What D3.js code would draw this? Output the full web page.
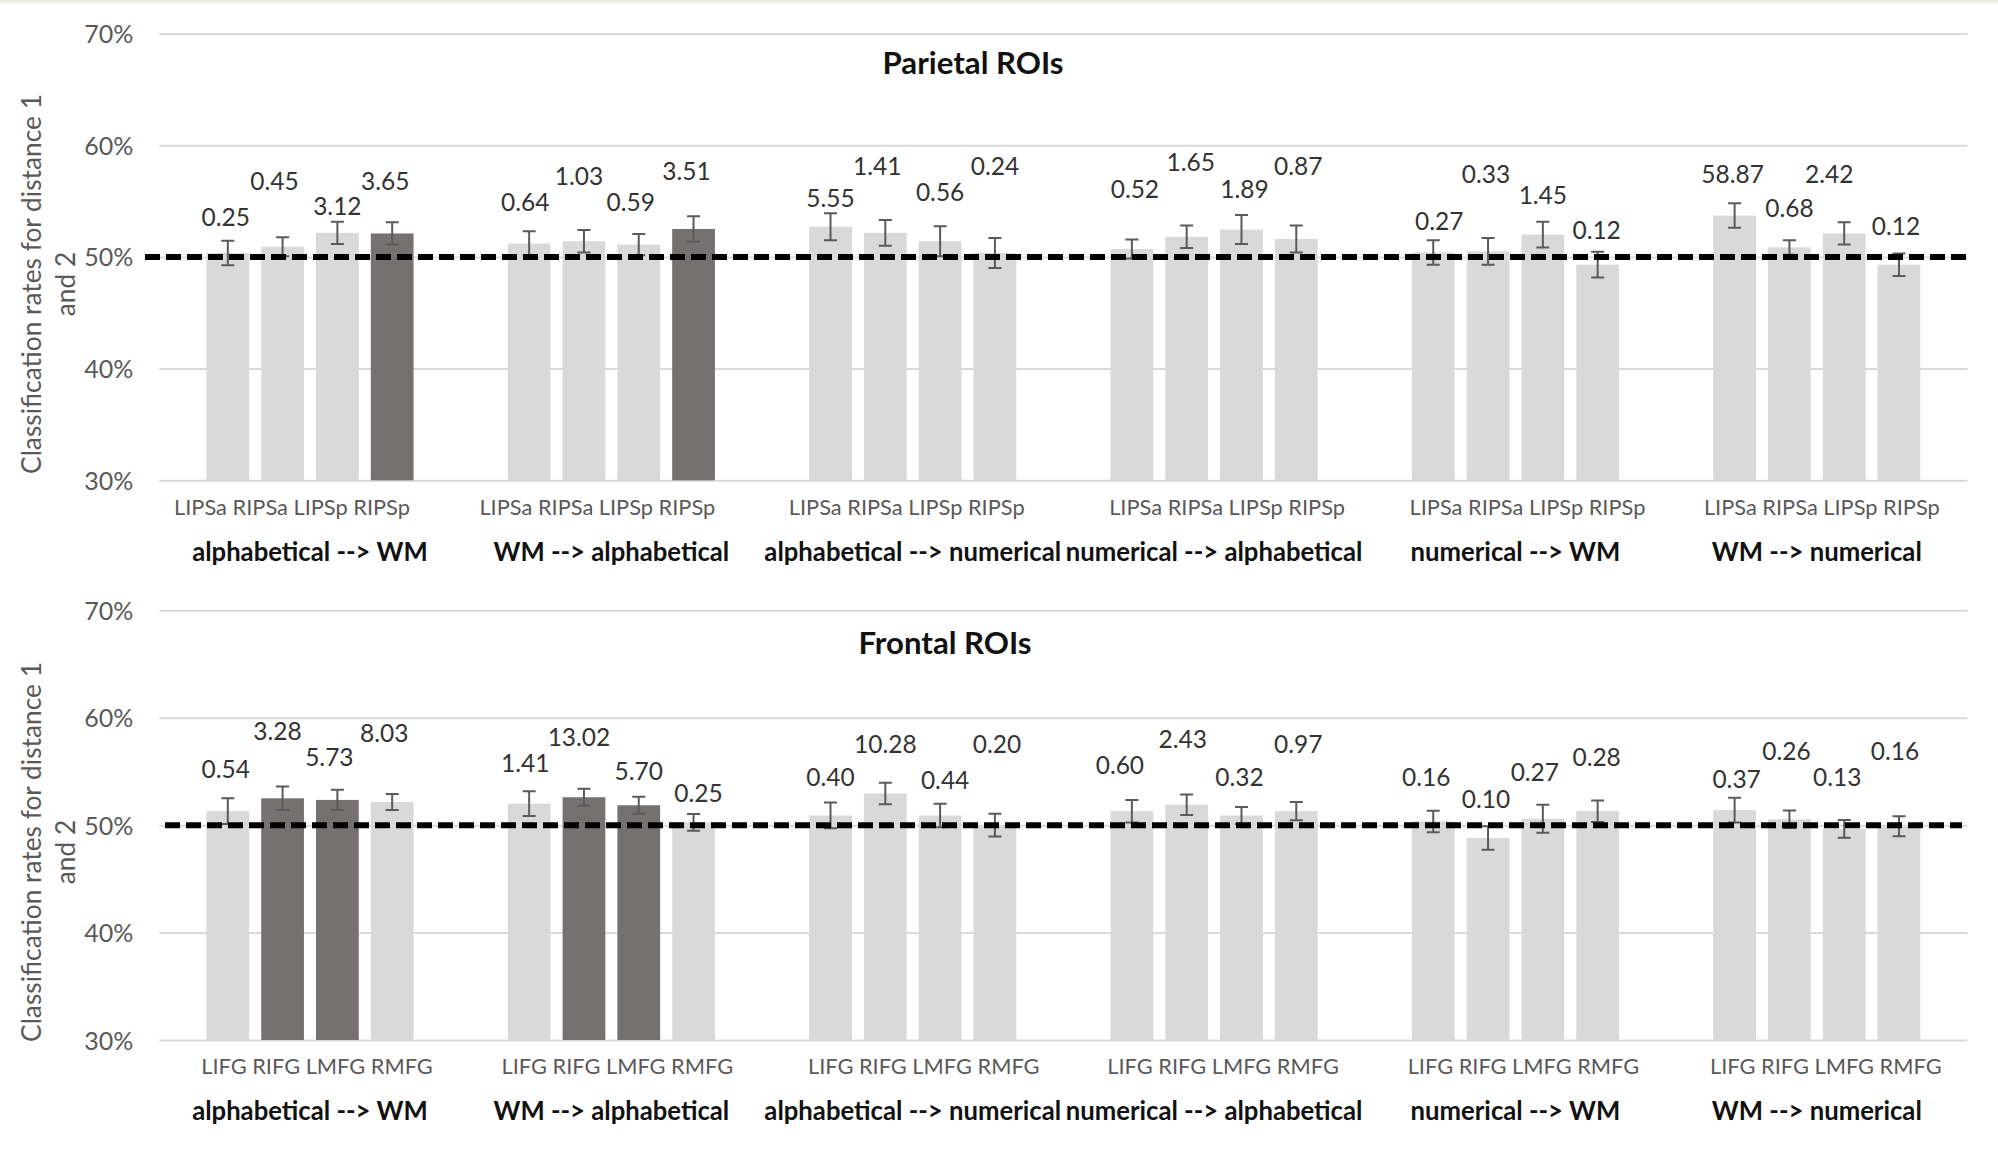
<!DOCTYPE html>
<html>
<head>
<meta charset="utf-8">
<script src="https://cdn.jsdelivr.net/npm/d3@7"></script>
<style>
  html, body { margin: 0; padding: 0; background: #ffffff; }
  svg { display: block; font-family: Lato, "Noto Sans", sans-serif; }
</style>
</head>
<body>
<svg id="chart" width="1998" height="1152"></svg>
<script>
// ---- data ---------------------------------------------------------------
const conditions = [
  "alphabetical --> WM",
  "WM --> alphabetical",
  "alphabetical --> numerical",
  "numerical --> alphabetical",
  "numerical --> WM",
  "WM --> numerical"
];
const yTicks = [30, 40, 50, 60, 70];
const chanceLevel = 50;

// Parietal ROIs: mean classification rate (%), standard error, Bayes factor, highlighted
const parietalROIs = ["LIPSa", "RIPSa", "LIPSp", "RIPSp"];
const parietalRates = [
  [50.35, 50.9, 52.15, 52.1],
  [51.2, 51.4, 51.1, 52.5],
  [52.7, 52.15, 51.4, 50.35],
  [50.7, 51.8, 52.45, 51.6],
  [50.4, 50.5, 52.0, 49.3],
  [53.7, 50.85, 52.1, 49.3]
];
const parietalSE = [
  [1.1, 0.85, 1.0, 1.0],
  [1.1, 1.0, 0.95, 1.15],
  [1.2, 1.15, 1.35, 1.35],
  [0.85, 1.0, 1.3, 1.2],
  [1.1, 1.2, 1.15, 1.15],
  [1.1, 0.65, 1.0, 1.0]
];
const parietalBF = [
  [0.25, 0.45, 3.12, 3.65],
  [0.64, 1.03, 0.59, 3.51],
  [5.55, 1.41, 0.56, 0.24],
  [0.52, 1.65, 1.89, 0.87],
  [0.27, 0.33, 1.45, 0.12],
  [58.87, 0.68, 2.42, 0.12]
];
const parietalHighlight = [
  [0, 0, 0, 1],
  [0, 0, 0, 1],
  [0, 0, 0, 0],
  [0, 0, 0, 0],
  [0, 0, 0, 0],
  [0, 0, 0, 0]
];

// Frontal ROIs
const frontalROIs = ["LIFG", "RIFG", "LMFG", "RMFG"];
const frontalRates = [
  [51.3, 52.5, 52.35, 52.15],
  [52.0, 52.6, 51.85, 50.25],
  [50.9, 52.95, 50.9, 50.0],
  [51.3, 51.9, 50.9, 51.3],
  [50.35, 48.8, 50.6, 51.3],
  [51.4, 50.55, 49.65, 49.9]
];
const frontalSE = [
  [1.2, 1.1, 0.95, 0.75],
  [1.15, 0.8, 0.8, 0.78],
  [1.2, 1.0, 1.1, 1.05],
  [1.05, 0.95, 0.8, 0.85],
  [1.0, 1.1, 1.3, 1.0],
  [1.15, 0.82, 0.83, 0.93]
];
const frontalBF = [
  [0.54, 3.28, 5.73, 8.03],
  [1.41, 13.02, 5.70, 0.25],
  [0.40, 10.28, 0.44, 0.20],
  [0.60, 2.43, 0.32, 0.97],
  [0.16, 0.10, 0.27, 0.28],
  [0.37, 0.26, 0.13, 0.16]
];
const frontalHighlight = [
  [0, 1, 1, 0],
  [0, 1, 1, 0],
  [0, 0, 0, 0],
  [0, 0, 0, 0],
  [0, 0, 0, 0],
  [0, 0, 0, 0]
];

// ---- label layout (hand-placed data labels, in axis units / px nudges) ----
const parietalLabelAt = [
  [53.6, 56.8, 54.55, 56.8],
  [54.9, 57.2, 54.9, 57.7],
  [55.3, 58.1, 55.8, 58.1],
  [56.1, 58.45, 56.1, 58.1],
  [53.2, 57.45, 55.55, 52.4],
  [57.45, 54.4, 57.45, 52.75]
];
const parietalLabelDx = [
  [-2, -8, 0, -7],
  [-4, -5, -8, -7],
  [0, -8, 0, 0],
  [3, 4, 3, 2],
  [6, -2, 0, -1],
  [-2, 0, -15, -3]
];
const frontalLabelAt = [
  [55.2, 58.75, 56.3, 58.6],
  [55.8, 58.2, 55.0, 53.0],
  [54.5, 57.5, 54.2, 57.5],
  [55.6, 58.0, 54.45, 57.5],
  [54.45, 52.4, 54.9, 56.3],
  [54.3, 56.9, 54.45, 56.9]
];
const frontalLabelDx = [
  [-2, -5, -8, -8],
  [-4, -5, 0, 5],
  [0, 0, 5, 2],
  [-12, -4, -2, 2],
  [-7, -2, -8, -1],
  [2, -3, -7, -4]
];

// ---- drawing ------------------------------------------------------------
const W = 1998;
const svg = d3.select("#chart");
const FONT = 'Lato, "Noto Sans", sans-serif';

svg.append("rect").attr("x", 0).attr("y", 0).attr("width", W).attr("height", 3).attr("fill", "#eeebe3");

const plotX = [159.3, 1967.5];
const x0 = d3.scaleBand().domain(conditions).range(plotX)
  .paddingInner(0.2727).paddingOuter(0.13635);

function drawPanel(p) {
  const g = svg.append("g");
  const y = d3.scaleLinear().domain([30, 70]).range(p.yRange);
  const x1 = d3.scaleBand().domain(p.rois).range([0, x0.bandwidth()])
    .paddingInner(0.22).paddingOuter(0.11);

  // value axis with gridlines
  const axis = d3.axisLeft(y).tickValues(yTicks).tickFormat(d => d + "%")
    .tickSizeInner(-(plotX[1] - plotX[0])).tickSizeOuter(0).tickPadding(26);
  const ag = g.append("g").attr("transform", `translate(${plotX[0]},0)`).call(axis)
    .attr("font-family", null).attr("font-size", null);
  ag.select(".domain").remove();
  ag.selectAll(".tick line").attr("stroke", "#d9d9d9").attr("stroke-width", 2);
  ag.selectAll(".tick text").attr("fill", "#595959")
    .style("font-family", FONT).style("font-size", "25px").attr("dy", "0.36em");

  const rows = conditions.flatMap((c, i) => p.rois.map((r, j) => ({
    c, r, i, j,
    v: p.rates[i][j], se: p.se[i][j], bf: p.bf[i][j], hi: p.hi[i][j],
    at: p.labelAt[i][j], dx: p.labelDx[i][j]
  })));
  const cx = d => x0(d.c) + x1(d.r) + x1.bandwidth() / 2;

  // bars
  g.append("g").selectAll("rect").data(rows).join("rect")
    .attr("x", d => x0(d.c) + x1(d.r))
    .attr("width", x1.bandwidth())
    .attr("y", d => y(d.v))
    .attr("height", d => y(30) - y(d.v))
    .attr("fill", d => d.hi ? "#767171" : "#d9d9d9");

  // error bars
  const eb = g.append("g").attr("stroke", "#5a5a5a").attr("stroke-width", 2).attr("fill", "none");
  eb.selectAll("path").data(rows).join("path")
    .attr("d", d => {
      const x = cx(d), t = y(d.v + d.se), b = y(d.v - d.se), c = 6.5;
      return `M${x - c},${t}H${x + c}M${x},${t}V${b}M${x - c},${b}H${x + c}`;
    });

  // chance level
  g.append("line")
    .attr("x1", p.chanceX[0]).attr("x2", p.chanceX[1])
    .attr("y1", y(chanceLevel)).attr("y2", y(chanceLevel))
    .attr("stroke", "#000").attr("stroke-width", 6).attr("stroke-dasharray", "15,6");

  // Bayes factor labels
  g.append("g").selectAll("text").data(rows).join("text")
    .attr("x", d => cx(d) + d.dx)
    .attr("y", d => y(d.at))
    .attr("dy", "0.36em")
    .attr("text-anchor", "middle")
    .attr("fill", "#333")
    .style("font-family", FONT).style("font-size", "24.5px")
    .text(d => d.bf.toFixed(2));

  // ROI names under each condition
  g.append("g").selectAll("text").data(conditions).join("text")
    .attr("x", (c, i) => x0(c) + x0.bandwidth() / 2 + p.roiDx[i])
    .attr("y", y(30) + 26.5)
    .attr("dy", "0.36em")
    .attr("text-anchor", "middle")
    .attr("fill", "#595959")
    .style("font-family", FONT).style("font-size", "21.8px")
    .text(p.rois.join(" "));

  // condition names
  g.append("g").selectAll("text").data(conditions).join("text")
    .attr("x", c => x0(c) + x0.bandwidth() / 2)
    .attr("y", y(30) + 71)
    .attr("dy", "0.36em")
    .attr("text-anchor", "middle")
    .attr("fill", "#111")
    .style("font-family", FONT).style("font-size", "25.7px").style("font-weight", "bold")
    .text(c => c);

  // panel title
  g.append("text")
    .attr("x", p.titleAt[0]).attr("y", p.titleAt[1]).attr("dy", "0.36em")
    .attr("text-anchor", "middle").attr("fill", "#111")
    .style("font-family", FONT).style("font-size", "31.2px").style("font-weight", "bold")
    .text(p.title);

  // axis title, two lines
  const at = g.append("g").attr("transform", `translate(41,${p.axisTitleY}) rotate(-90)`)
    .attr("fill", "#595959").style("font-family", FONT).style("font-size", "26.3px");
  at.append("text").attr("text-anchor", "middle").attr("y", 0).text("Classification rates for distance 1");
  at.append("text").attr("text-anchor", "middle").attr("y", 34).text("and 2");
}

drawPanel({
  rois: parietalROIs, rates: parietalRates, se: parietalSE, bf: parietalBF, hi: parietalHighlight,
  labelAt: parietalLabelAt, labelDx: parietalLabelDx,
  yRange: [480.3, 33.5], chanceX: [145, 1968],
  roiDx: [-18, -14, -6, 13, 12, 5],
  title: "Parietal ROIs", titleAt: [973, 63], axisTitleY: 284
});

drawPanel({
  rois: frontalROIs, rates: frontalRates, se: frontalSE, bf: frontalBF, hi: frontalHighlight,
  labelAt: frontalLabelAt, labelDx: frontalLabelDx,
  yRange: [1040, 610.3], chanceX: [165, 1962],
  roiDx: [7, 6, 11, 9, 8, 9],
  title: "Frontal ROIs", titleAt: [945, 643], axisTitleY: 852
});
</script>
</body>
</html>
